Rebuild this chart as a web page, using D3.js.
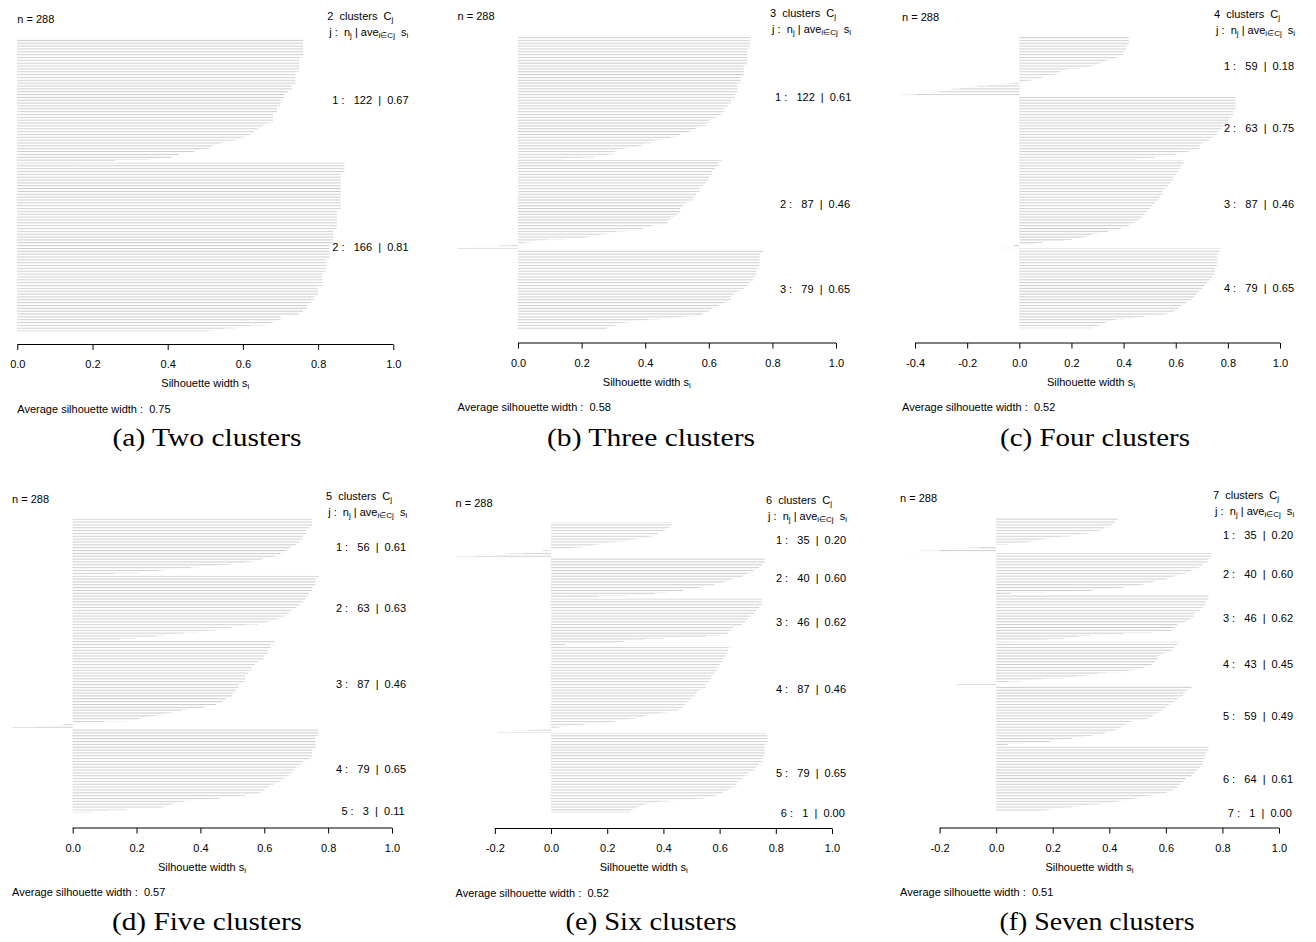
<!DOCTYPE html>
<html><head><meta charset="utf-8">
<script src="https://cdn.jsdelivr.net/npm/d3@7"></script>
<style>
body{margin:0;background:#fff;}
svg text{font-family:"Liberation Sans",Arial,Helvetica,sans-serif;white-space:pre;}
svg text.cap{font-family:"Liberation Serif","Times New Roman",serif;}
</style></head><body>
<svg id="chart" width="1316" height="942"></svg>
<script>
// ---------------- DATA (silhouette widths, sorted within each cluster) ----------------
const silA1 = [
.76,.76,.76,.76,.76,.76,.76,.76,.76,.76,
.76,.76,.76,.76,.76,.76,.76,.76,.76,.75,
.75,.75,.75,.75,.75,.75,.75,.75,.75,.75,
.75,.75,.75,.74,.74,.74,.74,.74,.74,.74,
.74,.74,.74,.74,.74,.73,.73,.73,.73,.73,
.73,.72,.72,.72,.72,.71,.71,.71,.71,.71,
.71,.70,.70,.70,.70,.70,.70,.69,.69,.69,
.69,.69,.69,.69,.68,.68,.68,.68,.68,.68,
.68,.68,.68,.67,.66,.66,.65,.65,.64,.64,
.64,.63,.63,.62,.62,.62,.61,.60,.59,.58,
.58,.56,.55,.54,.53,.52,.52,.51,.51,.49,
.48,.47,.45,.43,.43,.42,.41,.41,.38,.35,
.26,.16];
const silA2 = [
.87,.87,.87,.87,.87,.87,.87,.87,.87,.87,
.87,.86,.86,.86,.86,.86,.86,.86,.86,.86,
.86,.86,.86,.86,.86,.86,.86,.86,.86,.86,
.86,.86,.86,.86,.86,.86,.86,.86,.86,.86,
.86,.86,.86,.86,.86,.86,.85,.85,.85,.85,
.85,.85,.85,.85,.85,.85,.85,.85,.85,.85,
.85,.85,.85,.85,.85,.84,.84,.84,.84,.84,
.84,.84,.84,.84,.84,.84,.84,.84,.84,.84,
.83,.83,.83,.83,.83,.83,.83,.83,.83,.83,
.83,.83,.83,.83,.83,.82,.82,.82,.82,.82,
.82,.82,.82,.82,.82,.82,.82,.82,.82,.81,
.81,.81,.81,.81,.81,.81,.81,.81,.81,.81,
.81,.80,.80,.80,.80,.80,.80,.80,.80,.80,
.80,.79,.79,.79,.79,.78,.78,.78,.77,.77,
.77,.77,.77,.77,.76,.76,.76,.75,.75,.75,
.73,.70,.70,.70,.70,.69,.68,.68,.66,.66,
.62,.60,.58,.55,.54,.51];

const silB1 = [
.73,.73,.73,.73,.73,.73,.73,.73,.73,.73,
.73,.73,.73,.72,.72,.72,.72,.72,.72,.72,
.72,.72,.72,.72,.72,.72,.72,.72,.72,.72,
.71,.71,.71,.71,.71,.71,.71,.71,.71,.70,
.70,.70,.70,.70,.70,.70,.70,.69,.69,.69,
.69,.69,.69,.69,.69,.69,.68,.68,.68,.68,
.68,.68,.68,.67,.67,.67,.67,.66,.66,.66,
.66,.65,.65,.65,.65,.64,.64,.64,.63,.63,
.62,.62,.61,.60,.60,.60,.59,.59,.59,.57,
.56,.56,.55,.54,.54,.52,.52,.51,.50,.50,
.48,.46,.45,.43,.42,.42,.40,.39,.39,.37,
.35,.33,.32,.31,.30,.30,.30,.28,.26,.24,
.20,.14];
const silB2 = [
.64,.64,.63,.63,.63,.63,.62,.62,.62,.62,
.61,.61,.61,.61,.61,.60,.60,.60,.60,.60,
.59,.59,.59,.59,.58,.58,.57,.57,.57,.57,
.57,.57,.56,.56,.56,.56,.55,.55,.55,.55,
.54,.53,.52,.52,.52,.52,.52,.51,.51,.51,
.51,.51,.51,.50,.50,.49,.48,.48,.48,.47,
.47,.47,.47,.45,.42,.40,.40,.39,.37,.34,
.31,.29,.28,.26,.24,.22,.21,.15,.09,.06,
.04,.02,.01,-.02,-.06,-.14,-.19];
const silB3 = [
.77,.77,.77,.77,.76,.76,.76,.76,.76,.76,
.76,.76,.76,.76,.76,.76,.76,.76,.76,.75,
.75,.75,.75,.75,.75,.75,.75,.74,.74,.74,
.74,.74,.73,.73,.73,.72,.72,.71,.71,.70,
.70,.69,.69,.68,.68,.68,.67,.67,.67,.67,
.66,.66,.65,.64,.64,.63,.62,.62,.61,.61,
.60,.60,.59,.58,.58,.56,.52,.49,.45,.41,
.38,.35,.33,.32,.31,.30,.29,.28,.28];

const silC1 = [
.42,.42,.42,.42,.42,.42,.42,.42,.42,.41,
.41,.41,.41,.41,.41,.40,.40,.40,.40,.39,
.38,.37,.35,.34,.33,.32,.31,.30,.29,.28,
.26,.23,.19,.17,.16,.15,.15,.14,.12,.10,
.09,.08,.07,.05,.03,.01,-.03,-.07,-.12,-.16,
-.19,-.23,-.26,-.27,-.30,-.33,-.35,-.40,-.45];
const silC2 = [
.83,.83,.83,.83,.83,.83,.83,.83,.83,.83,
.83,.83,.83,.82,.82,.82,.82,.82,.82,.81,
.81,.81,.81,.80,.80,.80,.80,.80,.79,.78,
.78,.78,.77,.77,.76,.76,.76,.76,.75,.75,
.74,.74,.73,.73,.72,.71,.70,.69,.69,.69,
.69,.69,.69,.67,.65,.63,.61,.60,.58,.55,
.52,.48,.45];
const silC3 = [
.63,.63,.63,.63,.62,.62,.62,.62,.61,.61,
.61,.61,.60,.60,.60,.60,.59,.59,.59,.59,
.59,.58,.58,.58,.57,.57,.57,.56,.56,.56,
.55,.55,.55,.55,.54,.54,.54,.53,.53,.53,
.53,.52,.52,.52,.51,.51,.51,.50,.50,.50,
.49,.49,.48,.48,.48,.47,.47,.46,.46,.45,
.45,.44,.43,.43,.42,.41,.40,.39,.38,.37,
.34,.31,.30,.28,.27,.26,.24,.22,.20,.17,
.13,.09,.06,.02,-.02,-.06,-.08];
const silC4 = [
.77,.77,.77,.77,.76,.76,.76,.76,.76,.76,
.76,.76,.76,.76,.76,.76,.76,.76,.76,.75,
.75,.75,.75,.75,.75,.75,.74,.74,.74,.74,
.73,.73,.73,.72,.72,.72,.71,.71,.70,.70,
.70,.69,.69,.68,.68,.68,.67,.67,.67,.66,
.66,.65,.65,.64,.64,.63,.62,.62,.61,.61,
.60,.60,.59,.58,.57,.55,.52,.48,.44,.40,
.37,.35,.34,.33,.32,.31,.30,.29,.28];

const silD1 = [
.75,.75,.75,.75,.75,.75,.75,.75,.74,.74,
.73,.73,.73,.73,.73,.73,.72,.72,.72,.72,
.72,.71,.71,.71,.70,.70,.69,.69,.68,.68,
.67,.67,.66,.66,.65,.65,.64,.63,.62,.60,
.59,.58,.56,.54,.52,.49,.45,.40,.37,.33,
.29,.27,.24,.21,.13,.04];
const silD2 = [
.77,.77,.76,.76,.76,.76,.76,.76,.76,.76,
.75,.75,.75,.75,.75,.74,.74,.74,.74,.74,
.73,.73,.73,.73,.72,.72,.72,.71,.71,.71,
.70,.70,.69,.69,.68,.68,.68,.67,.67,.66,
.66,.65,.64,.64,.62,.61,.60,.58,.54,.51,
.50,.49,.47,.45,.42,.39,.35,.32,.29,.26,
.23,.20,.15];
const silD3 = [
.64,.63,.63,.63,.62,.62,.62,.62,.61,.61,
.61,.61,.61,.61,.60,.60,.60,.60,.60,.59,
.58,.58,.58,.57,.57,.57,.56,.56,.56,.56,
.55,.55,.55,.55,.54,.54,.54,.54,.54,.54,
.54,.53,.52,.52,.52,.52,.52,.51,.51,.51,
.51,.51,.50,.50,.50,.50,.49,.48,.48,.47,
.47,.47,.46,.45,.44,.42,.41,.39,.36,.34,
.32,.31,.29,.28,.26,.24,.22,.21,.20,.17,
.10,.03,.01,-.03,-.07,-.12,-.19];
const silD4 = [
.77,.77,.77,.77,.77,.77,.77,.76,.76,.76,
.76,.76,.76,.76,.76,.76,.76,.76,.76,.75,
.75,.75,.75,.75,.75,.75,.75,.74,.74,.74,
.73,.73,.72,.72,.72,.71,.71,.71,.70,.70,
.69,.69,.69,.68,.68,.68,.67,.67,.66,.66,
.65,.65,.65,.64,.63,.62,.62,.61,.61,.60,
.60,.60,.59,.58,.56,.54,.52,.49,.46,.43,
.38,.35,.33,.32,.31,.30,.29,.28,.28];
const silD5 = [.17,.11,.06];

const silE1 = [
.43,.43,.43,.42,.42,.42,.41,.41,.40,.40,
.38,.38,.37,.36,.35,.33,.30,.28,.26,.23,
.20,.17,.15,.13,.11,.08,.04,.00,-.03,-.06,
-.10,-.15,-.20,-.27,-.34];
const silE2 = [
.76,.76,.76,.76,.76,.76,.75,.75,.75,.74,
.73,.73,.72,.72,.72,.70,.69,.69,.68,.67,
.65,.64,.63,.62,.61,.60,.58,.55,.54,.53,
.52,.50,.47,.44,.41,.37,.33,.27,.17,.05];
const silE3 = [
.75,.75,.75,.75,.75,.75,.74,.74,.74,.74,
.73,.73,.73,.72,.72,.72,.71,.71,.70,.70,
.70,.70,.69,.69,.68,.68,.67,.66,.65,.64,
.64,.64,.63,.63,.63,.62,.60,.55,.45,.40,
.33,.29,.26,.24,.18,.05];
const silE4 = [
.64,.64,.63,.63,.63,.63,.63,.63,.62,.62,
.62,.62,.62,.61,.61,.61,.61,.60,.60,.60,
.60,.60,.59,.59,.59,.59,.58,.58,.58,.57,
.57,.57,.57,.57,.56,.56,.56,.56,.55,.55,
.55,.55,.55,.55,.53,.52,.52,.52,.51,.51,
.51,.50,.50,.50,.49,.49,.48,.48,.48,.47,
.47,.47,.46,.46,.45,.43,.41,.39,.36,.34,
.33,.32,.30,.28,.26,.23,.21,.16,.12,.10,
.06,.03,.01,-.03,-.08,-.13,-.19];
const silE5 = [
.77,.77,.77,.77,.77,.77,.77,.77,.77,.77,
.77,.76,.76,.76,.76,.76,.76,.76,.76,.76,
.76,.76,.76,.75,.75,.75,.75,.75,.75,.75,
.74,.74,.74,.73,.73,.73,.72,.72,.71,.70,
.70,.70,.69,.69,.68,.68,.67,.67,.66,.66,
.66,.66,.66,.65,.64,.64,.63,.62,.61,.61,
.60,.59,.58,.57,.55,.52,.47,.42,.38,.35,
.34,.33,.32,.31,.30,.30,.29,.28,.28];
const silE6 = [0.00];

const silF1 = [
.43,.43,.43,.42,.42,.42,.41,.41,.40,.40,
.38,.38,.37,.36,.35,.33,.30,.28,.26,.23,
.20,.17,.15,.13,.11,.08,.04,.00,-.03,-.06,
-.10,-.15,-.20,-.27,-.34];
const silF2 = [
.76,.76,.76,.76,.76,.75,.75,.75,.75,.74,
.73,.73,.72,.72,.71,.70,.69,.69,.68,.67,
.65,.64,.63,.62,.61,.60,.58,.56,.55,.54,
.52,.50,.47,.45,.42,.38,.34,.27,.17,.05];
const silF3 = [
.75,.75,.75,.75,.75,.75,.74,.74,.74,.74,
.73,.73,.73,.72,.72,.72,.71,.71,.70,.70,
.70,.70,.69,.69,.68,.68,.67,.66,.65,.64,
.64,.64,.63,.63,.63,.62,.60,.55,.45,.40,
.33,.29,.26,.24,.18,.05];
const silF4 = [
.65,.65,.64,.64,.63,.63,.63,.62,.62,.61,
.60,.59,.58,.58,.57,.57,.57,.57,.56,.56,
.56,.55,.55,.55,.54,.52,.50,.49,.47,.45,
.39,.36,.34,.31,.28,.24,.17,.13,.09,.04,
.01,-.02,-.14];
const silF5 = [
.70,.69,.69,.68,.67,.67,.67,.66,.66,.66,
.65,.65,.64,.64,.63,.63,.62,.62,.61,.61,
.60,.60,.59,.59,.58,.58,.57,.56,.56,.55,
.55,.54,.53,.50,.48,.47,.47,.46,.45,.45,
.44,.44,.43,.42,.41,.39,.38,.36,.34,.31,
.29,.27,.25,.22,.19,.17,.10,.04,-.02];
const silF6 = [
.75,.75,.75,.75,.75,.74,.74,.74,.74,.74,
.74,.74,.73,.73,.73,.73,.73,.73,.72,.72,
.72,.72,.71,.71,.71,.70,.70,.69,.69,.69,
.67,.67,.67,.66,.66,.66,.65,.65,.65,.64,
.64,.63,.63,.62,.61,.60,.58,.56,.54,.52,
.50,.48,.46,.44,.42,.40,.37,.33,.30,.27,
.24,.20,.18,.16];
const silF7 = [0.00];

// cluster average widths and overall averages as printed
const aveA = [0.67, 0.81];
const aveB = [0.61, 0.46, 0.65];
const aveC = [0.18, 0.75, 0.46, 0.65];
const aveD = [0.61, 0.63, 0.46, 0.65, 0.11];
const aveE = [0.20, 0.60, 0.62, 0.46, 0.65, 0.00];
const aveF = [0.20, 0.60, 0.62, 0.45, 0.49, 0.61, 0.00];
const avgWidths = [0.75, 0.58, 0.52, 0.57, 0.52, 0.51];
const captions = ["(a) Two clusters", "(b) Three clusters", "(c) Four clusters",
                  "(d) Five clusters", "(e) Six clusters", "(f) Seven clusters"];
const tickValues = [-0.4, -0.2, 0.0, 0.2, 0.4, 0.6, 0.8, 1.0];

const panels = [
  {clusters: [silA1, silA2], ave: aveA},
  {clusters: [silB1, silB2, silB3], ave: aveB},
  {clusters: [silC1, silC2, silC3, silC4], ave: aveC},
  {clusters: [silD1, silD2, silD3, silD4, silD5], ave: aveD},
  {clusters: [silE1, silE2, silE3, silE4, silE5, silE6], ave: aveE},
  {clusters: [silF1, silF2, silF3, silF4, silF5, silF6, silF7], ave: aveF}
];

// ---------------- LAYOUT ----------------
const layout = [
  {xR: 393.3, W: 376,   yTop: 38.0,  yBot: 331.4, axisY: 344.5, capX: 207,  capY: 446, capW: 189},
  {xR: 836,   W: 378.4, yTop: 35.3,  yBot: 329.5, axisY: 343,   capX: 651,  capY: 446, capW: 208},
  {xR: 1280,  W: 378,   yTop: 36.2,  yBot: 328.3, axisY: 343,   capX: 1095, capY: 446, capW: 190},
  {xR: 392,   W: 380,   yTop: 518.6, yBot: 812.4, axisY: 828,   capX: 207,  capY: 930, capW: 190},
  {xR: 832,   W: 376.5, yTop: 522.4, yBot: 814.0, axisY: 828.5, capX: 651,  capY: 930, capW: 171},
  {xR: 1279,  W: 379,   yTop: 517.2, yBot: 813.1, axisY: 828,   capX: 1097, capY: 930, capW: 195}
];
const FS = 11, SUB = 8;

const svg = d3.select('#chart');
svg.append('rect').attr('width', 1316).attr('height', 942).attr('fill', '#fff');
const pat = svg.append('defs').append('pattern').attr('id', 'stripes')
  .attr('patternUnits', 'userSpaceOnUse').attr('width', 8).attr('height', 2.85);
pat.append('rect').attr('width', 8).attr('height', 1.05).attr('fill', '#c8c8c8');

panels.forEach((p, i) => {
  const L = layout[i];
  const g = svg.append('g');
  const all = p.clusters.flat();
  const k = p.clusters.length;
  const xmin = Math.min(0, d3.min(all));
  const x = d3.scaleLinear().domain([xmin, 1]).range([L.xR - L.W, L.xR]);

  let u = 0;
  const bars = [], mids = [];
  p.clusters.forEach((c, ci) => {
    const start = u;
    c.forEach(v => { bars.push({v, u}); u += 1; });
    mids.push({ci, mid: (start + u) / 2, n: c.length});
    if (ci < k - 1) u += 0.5;
  });
  const y = d3.scaleLinear().domain([0, u]).range([L.yTop, L.yBot]);

  g.append('g').selectAll('rect').data(bars).join('rect')
    .attr('x', d => x(Math.min(0, d.v)))
    .attr('width', d => Math.abs(x(d.v) - x(0)))
    .attr('y', d => y(d.u))
    .attr('height', d => y(d.u + 1) - y(d.u))
    .attr('fill', 'url(#stripes)');

  // axis
  const ticks = tickValues.filter(t => t >= xmin - 1e-9 && t <= 1 + 1e-9);
  const ax = g.append('g').attr('transform', `translate(0,${L.axisY})`)
    .call(d3.axisBottom(x).tickValues(ticks).tickSize(5.5).tickPadding(10.5)
      .tickFormat(d => d.toFixed(1)));
  ax.select('.domain').remove();
  ax.attr('font-size', FS);
  ax.selectAll('text').attr('fill', '#000');
  ax.selectAll('.tick line').attr('stroke', '#000');
  ax.append('line').attr('x1', x(ticks[0])).attr('x2', x(ticks[ticks.length - 1]))
    .attr('stroke', '#000');

  const txt = (tx, ty, anchor) => g.append('text').attr('x', tx).attr('y', ty)
    .attr('text-anchor', anchor).attr('dominant-baseline', 'central')
    .attr('font-size', FS).attr('fill', '#000');

  txt(x(xmin), L.yTop - 19.5, 'start').text('n = ' + all.length);

  const h1 = txt(L.xR, L.yTop - 22.5, 'end');
  h1.append('tspan').text(`${k}  clusters  C`);
  h1.append('tspan').attr('font-size', SUB).attr('dy', 3).text('j');

  const h2 = txt(L.xR + 0.04 * L.W, L.yTop - 6.5, 'end');
  h2.append('tspan').text('j :  n');
  h2.append('tspan').attr('font-size', SUB).attr('dy', 3).text('j');
  h2.append('tspan').attr('dy', -3).text(' | ave');
  h2.append('tspan').attr('font-size', SUB).attr('dy', 3).text('i\u2208Cj');
  h2.append('tspan').attr('dy', -3).text('  s');
  h2.append('tspan').attr('font-size', SUB).attr('dy', 3).text('i');

  mids.forEach(m => {
    const t = txt(0, y(m.mid), 'start')
      .text(`${m.ci + 1} :   ${m.n}  |  ${p.ave[m.ci].toFixed(2)}`);
    const w = t.node().getComputedTextLength();
    t.attr('x', x(1) - 0.8 * w);
  });

  const xl = txt((x(xmin) + x(1)) / 2, L.axisY + 38.5, 'middle');
  xl.append('tspan').text('Silhouette width s');
  xl.append('tspan').attr('font-size', SUB).attr('dy', 3).text('i');

  txt(x(xmin), L.axisY + 64, 'start').text(`Average silhouette width :  ${avgWidths[i].toFixed(2)}`);

  svg.append('text').attr('class', 'cap').attr('x', L.capX).attr('y', L.capY)
    .attr('text-anchor', 'middle')
    .attr('font-size', 25).attr('fill', '#000')
    .attr('textLength', L.capW).attr('lengthAdjust', 'spacingAndGlyphs')
    .text(captions[i]);
});
</script></body></html>
